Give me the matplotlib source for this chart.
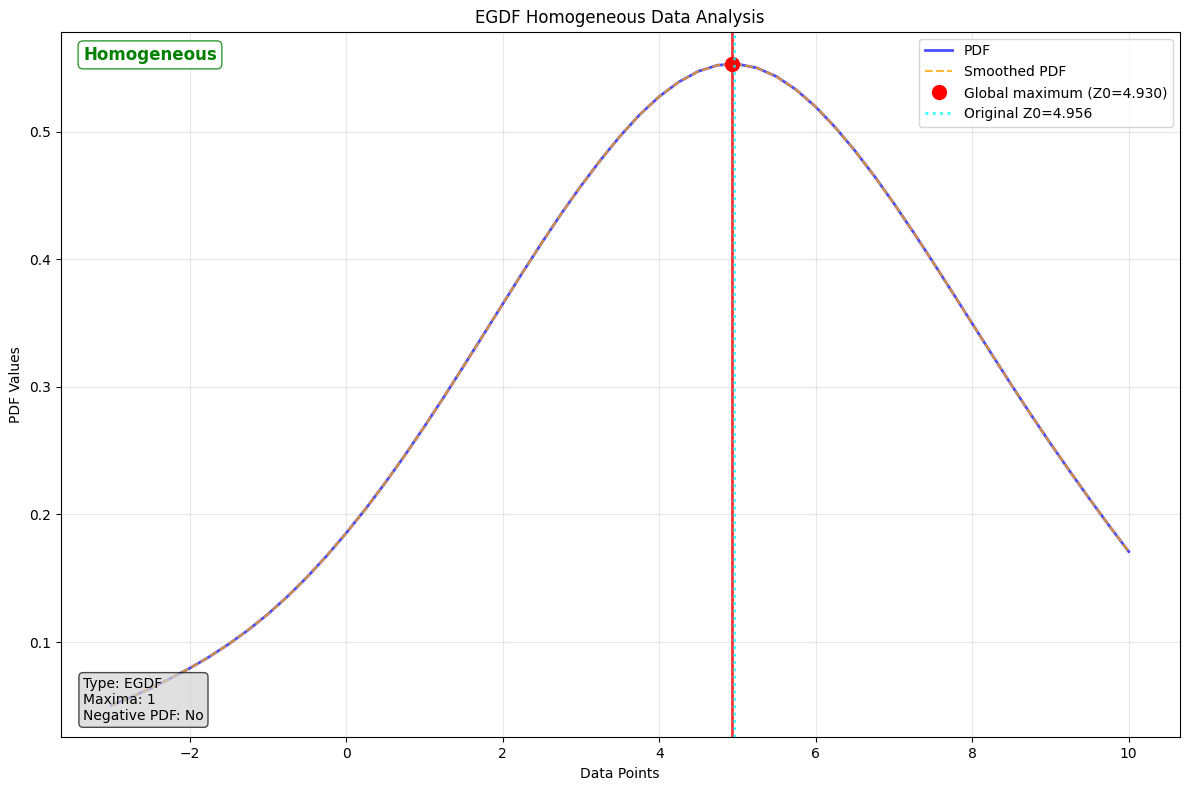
import matplotlib
matplotlib.use("Agg")
import matplotlib.pyplot as plt

# Data (x step 0.25)
x_points = [-3.0, -2.75, -2.5, -2.25, -2.0, -1.75, -1.5, -1.25, -1.0, -0.75, -0.5, -0.25,
            0.0, 0.25, 0.5, 0.75, 1.0, 1.25, 1.5, 1.75, 2.0, 2.25, 2.5, 2.75,
            3.0, 3.25, 3.5, 3.75, 4.0, 4.25, 4.5, 4.75, 5.0, 5.25, 5.5, 5.75,
            6.0, 6.25, 6.5, 6.75, 7.0, 7.25, 7.5, 7.75, 8.0, 8.25, 8.5, 8.75,
            9.0, 9.25, 9.5, 9.75, 10.0]
pdf_values = [0.0505, 0.0568, 0.0638, 0.0714, 0.0795, 0.0885, 0.0985, 0.1096, 0.1220,
              0.1358, 0.1510, 0.1676, 0.1855, 0.2046, 0.2250, 0.2465, 0.2690, 0.2923,
              0.3163, 0.3406, 0.3650, 0.3893, 0.4130, 0.4359, 0.4575, 0.4778, 0.4965,
              0.5133, 0.5275, 0.5389, 0.5473, 0.5521, 0.5529, 0.5499, 0.5431, 0.5328,
              0.5194, 0.5033, 0.4851, 0.4651, 0.4436, 0.4210, 0.3976, 0.3737, 0.3496,
              0.3255, 0.3016, 0.2782, 0.2556, 0.2336, 0.2121, 0.1912, 0.1709]
smoothed_values = list(pdf_values)
z0_global = 4.930
z0_max_value = 0.5531
z0_original = 4.956
info_lines = ["Type: EGDF", "Maxima: 1", "Negative PDF: No"]

fig, ax = plt.subplots(figsize=(11.89, 7.90), dpi=100)

ax.plot(x_points, pdf_values, color="blue", alpha=0.7, linewidth=2, label="PDF")
ax.plot(x_points, smoothed_values, color="orange", linestyle="--", alpha=0.8,
        linewidth=1.5, label="Smoothed PDF")
ax.axvline(z0_global, color="red", alpha=0.8, linewidth=2)
ax.plot([z0_global], [z0_max_value], "o", color="red", markersize=10,
        label=f"Global maximum (Z0={z0_global:.3f})")
ax.axvline(z0_original, color="cyan", linestyle=":", linewidth=2, alpha=0.8,
           label=f"Original Z0={z0_original:.3f}")

ax.set_title("EGDF Homogeneous Data Analysis")
ax.set_xlabel("Data Points")
ax.set_ylabel("PDF Values")
ax.grid(True, alpha=0.3)
ax.legend(loc="upper right")

ax.text(0.02, 0.02, "\n".join(info_lines), transform=ax.transAxes,
        va="bottom", ha="left", fontsize=10,
        bbox=dict(boxstyle="round", facecolor="lightgray", alpha=0.7), zorder=10)
ax.text(0.02, 0.98, "Homogeneous", transform=ax.transAxes, va="top", ha="left",
        fontsize=12, fontweight="bold", color="green",
        bbox=dict(boxstyle="round", facecolor="white", edgecolor="green", alpha=0.8),
        zorder=10)

fig.tight_layout(pad=0.68)
fig.savefig("out.png", dpi=100)
